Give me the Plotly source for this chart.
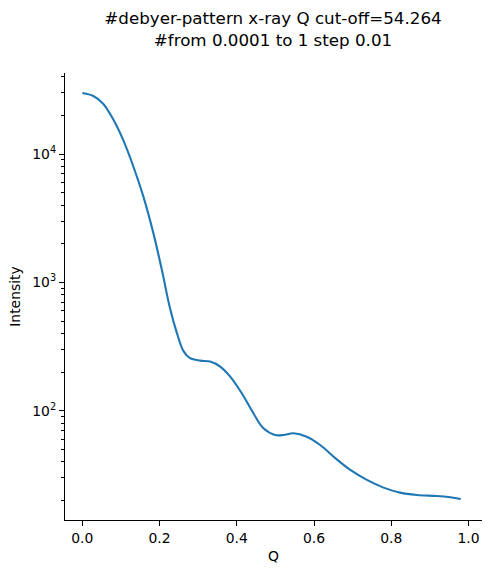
import plotly.graph_objects as go

# Values
q_values = [0.0001, 0.0285, 0.054, 0.080, 0.106, 0.132, 0.158, 0.184, 0.206, 0.227,
            0.245, 0.262, 0.279, 0.305, 0.331, 0.357, 0.383, 0.413, 0.443, 0.469,
            0.499, 0.521, 0.547, 0.581, 0.616, 0.659, 0.694, 0.737, 0.780, 0.823,
            0.866, 0.918, 0.953, 0.9801]
log_intensity = [4.475, 4.452, 4.392, 4.270, 4.108, 3.905, 3.670, 3.384, 3.098, 2.80,
                 2.605, 2.465, 2.41, 2.391, 2.384, 2.345, 2.267, 2.137, 1.981, 1.864,
                 1.812, 1.812, 1.825, 1.799, 1.734, 1.622, 1.54, 1.462, 1.402, 1.363,
                 1.345, 1.337, 1.327, 1.314]
intensity = [10 ** v for v in log_intensity]

title_lines = ["#debyer-pattern x-ray Q cut-off=54.264", "#from 0.0001 to 1 step 0.01"]
x_ticks = [0.0, 0.2, 0.4, 0.6, 0.8, 1.0]
y_major = [100, 1000, 10000]
y_major_text = ["10<sup>2</sup>", "10<sup>3</sup>", "10<sup>4</sup>"]
y_minor = [m * d for d in [10, 100, 1000, 10000] for m in range(2, 10)]

FONT = "DejaVu Sans"

fig = go.Figure()
fig.add_trace(go.Scatter(x=q_values, y=intensity, mode="lines",
                         line=dict(color="#1f77b4", width=2.1, shape="spline", smoothing=1.0),
                         showlegend=False))

fig.update_layout(
    width=491, height=573,
    margin=dict(l=65, r=9, t=73, b=53),
    paper_bgcolor="white", plot_bgcolor="white",
    font=dict(family=FONT, color="black", size=14),
    title=dict(text="<br>".join(title_lines), x=273 / 491, xanchor="center",
               xref="container", yref="container", y=1 - 24 / 573, yanchor="top",
               font=dict(family=FONT, size=16.7, color="black")),
)
fig.update_xaxes(
    range=[-0.0448, 1.035], showgrid=False, zeroline=False, automargin=False,
    showline=True, linecolor="black", linewidth=1.1, mirror=False,
    ticks="outside", ticklen=5, tickwidth=1.1, tickcolor="black",
    tickmode="array", tickvals=x_ticks, ticktext=[f"{v:.1f}" for v in x_ticks],
    tickfont=dict(size=13.9),
    title=dict(text="Q", font=dict(size=13.9), standoff=6),
)
fig.update_yaxes(
    type="log", range=[1.150, 4.631], showgrid=False, zeroline=False, automargin=False,
    showline=True, linecolor="black", linewidth=1.1, mirror=False,
    ticks="outside", ticklen=5, tickwidth=1.1, tickcolor="black",
    tickmode="array", tickvals=y_major, ticktext=y_major_text,
    tickfont=dict(size=13.9),
    minor=dict(tickmode="array", tickvals=y_minor, ticks="outside", ticklen=3,
               tickwidth=0.8, tickcolor="black", showgrid=False),
    title=dict(text="Intensity", font=dict(size=13.9), standoff=8),
)

fig.write_html("out.html", config={"displayModeBar": False},
               post_script="document.body.style.margin='0';")
